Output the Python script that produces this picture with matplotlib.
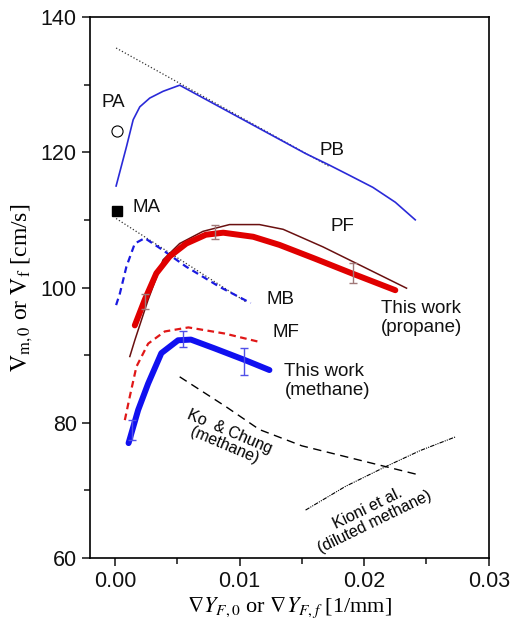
import matplotlib
matplotlib.use("Agg")
import matplotlib.pyplot as plt
from matplotlib.ticker import MultipleLocator

plt.rcParams['font.family'] = ['Liberation Sans', 'DejaVu Sans']
plt.rcParams['mathtext.fontset'] = 'stix'

# PA / MA single points
pa_x, pa_y = [0.0002], [123.1]
ma_x, ma_y = [0.0002], [111.3]

# PB (propane, blue thin) and its tangent line
pb_x = [0.0001, 0.00093, 0.00147, 0.002, 0.0028, 0.00387, 0.0052, 0.0076, 0.0108,
        0.0153, 0.0172, 0.0188, 0.0207, 0.0225, 0.0241]
pb_y = [115.0, 120.8, 124.8, 126.7, 128.0, 129.0, 129.9, 127.5, 124.3,
        119.8, 118.1, 116.6, 114.8, 112.6, 110.0]
pa_line_x = [0.0001, 0.0172]
pa_line_y = [135.4, 117.9]

# MB (methane, blue dashed) and its tangent line
mb_x = [0.0001, 0.0004, 0.00093, 0.0016, 0.0024, 0.00387, 0.0057, 0.0084, 0.0109]
mb_y = [97.4, 99.1, 103.1, 106.5, 107.3, 105.5, 103.1, 100.1, 97.7]
ma_line_x = [0.0001, 0.0105]
ma_line_y = [110.2, 97.9]

# PF (propane, dark red thin)
pf_x = [0.0012, 0.0016, 0.00267, 0.00387, 0.0052, 0.00707, 0.0092, 0.0116, 0.0135,
        0.0167, 0.02, 0.0234]
pf_y = [89.8, 92.2, 98.2, 104.1, 106.5, 108.3, 109.3, 109.3, 108.6,
        106.0, 103.0, 99.9]

# this work, propane
prop_x = [0.0016, 0.0024, 0.00333, 0.0044, 0.00573, 0.0073, 0.0087, 0.0111, 0.0132,
          0.016, 0.019, 0.0225]
prop_y = [94.4, 98.2, 102.1, 104.6, 106.5, 107.8, 108.1, 107.5, 106.3,
          104.3, 102.1, 99.6]
prop_err_x = [0.0024, 0.008, 0.0191]
prop_err_y = [97.95, 108.15, 102.1]
prop_err = [1.15, 1.05, 1.5]

# MF (methane, red dashed)
mf_x = [0.0008, 0.0012, 0.00173, 0.00267, 0.004, 0.0059, 0.0088, 0.0115]
mf_y = [80.4, 83.9, 88.3, 91.7, 93.5, 94.1, 93.2, 92.0]

# this work, methane
meth_x = [0.0011, 0.00187, 0.00267, 0.00373, 0.00507, 0.0061, 0.008, 0.0104, 0.0124]
meth_y = [77.0, 81.9, 85.8, 90.3, 92.2, 92.3, 91.0, 89.3, 87.8]
meth_err_x = [0.0014, 0.00547, 0.01035]
meth_err_y = [78.9, 92.4, 89.05]
meth_err = [1.5, 1.2, 1.95]

# Ko & Chung, Kioni et al.
ko_x = [0.0052, 0.0089, 0.0116, 0.015, 0.0185, 0.0244]
ko_y = [86.8, 82.4, 79.0, 76.6, 75.0, 72.3]
kioni_x = [0.0153, 0.0185, 0.0217, 0.0245, 0.0273]
kioni_y = [67.1, 70.6, 73.5, 75.9, 77.9]

fig = plt.figure(figsize=(5.29, 6.25), dpi=100)
ax = fig.add_axes([0.170, 0.107, 0.754, 0.866])

ax.plot(pa_line_x, pa_line_y, color='#333333', linestyle=':', linewidth=0.9)
ax.plot(ma_line_x, ma_line_y, color='#333333', linestyle=':', linewidth=0.9)
ax.plot(pb_x, pb_y, color='#2a2ad8', linewidth=1.2)
ax.plot(mb_x, mb_y, color='#1a1ae0', linestyle=(0, (3, 2)), linewidth=1.6)
ax.plot(pf_x, pf_y, color='#6a1010', linewidth=1.1)
ax.plot(prop_x, prop_y, color='#e00000', linewidth=4.3, solid_capstyle='round',
        solid_joinstyle='round')
ax.errorbar(prop_err_x, prop_err_y, yerr=prop_err, fmt='none', ecolor='#a07878',
            elinewidth=1.0, capsize=3)
ax.plot(mf_x, mf_y, color='#e01818', linestyle=(0, (3, 2)), linewidth=1.6)
ax.plot(meth_x, meth_y, color='#1010f0', linewidth=4.3, solid_capstyle='round',
        solid_joinstyle='round')
ax.errorbar(meth_err_x, meth_err_y, yerr=meth_err, fmt='none', ecolor='#5050e8',
            elinewidth=1.0, capsize=3)
ax.plot(ko_x, ko_y, color='black', linestyle=(0, (6, 4)), linewidth=1.0)
ax.plot(kioni_x, kioni_y, color='black', linestyle=(0, (4, 1, 1, 1, 1, 1)), linewidth=0.8)

ax.plot(pa_x, pa_y, marker='o', markersize=8, markerfacecolor='white',
        markeredgecolor='black', markeredgewidth=0.8, linestyle='none')
ax.plot(ma_x, ma_y, marker='s', markersize=7, color='black', linestyle='none')

lbl = dict(fontsize=13.5, color='#111111')
ax.text(-0.00016, 127.3, 'PA', ha='center', va='center', **lbl)
ax.text(0.00144, 111.8, 'MA', ha='left', va='center', **lbl)
ax.text(0.01744, 120.3, 'PB', ha='center', va='center', **lbl)
ax.text(0.01824, 109.0, 'PF', ha='center', va='center', **lbl)
ax.text(0.0133, 98.2, 'MB', ha='center', va='center', **lbl)
ax.text(0.0137, 93.3, 'MF', ha='center', va='center', **lbl)
ax.text(0.02134, 95.5, 'This work\n(propane)', ha='left', va='center',
        linespacing=1.1, **lbl)
ax.text(0.0136, 86.2, 'This work\n(methane)', ha='left', va='center',
        linespacing=1.1, **lbl)
ax.text(0.0090, 77.7, 'Ko  & Chung\n(methane)', ha='center', va='center',
        rotation=-23, rotation_mode='anchor', fontsize=11.5, linespacing=1.0)
ax.text(0.02056, 66.4, 'Kioni et al.\n(diluted methane)', ha='center', va='center',
        rotation=26, rotation_mode='anchor', fontsize=11.5, linespacing=1.0)

ax.set_xlim(-0.002, 0.03)
ax.set_ylim(60, 140)
ax.set_xticks([0.0, 0.01, 0.02, 0.03])
ax.set_xticklabels(['0.00', '0.01', '0.02', '0.03'])
ax.set_yticks([60, 80, 100, 120, 140])
ax.xaxis.set_minor_locator(MultipleLocator(0.005))
ax.yaxis.set_minor_locator(MultipleLocator(10))
ax.tick_params(which='both', direction='out', top=False, right=False,
               width=1.1, labelsize=15.5, colors='#111111')
ax.tick_params(which='major', length=6)
ax.tick_params(which='minor', length=4)
for s in ax.spines.values():
    s.set_linewidth(1.2)

ax.set_xlabel(r'$\nabla Y_{F,0}$ or $\nabla Y_{F,f}$ [1/mm]', fontsize=16,
              family='Liberation Serif', labelpad=2)
ax.set_ylabel(r'$\mathrm{V_{m,0}}$ or $\mathrm{V_f}$ [cm/s]', fontsize=17,
              family='Liberation Serif', labelpad=4)

fig.savefig('out.png', dpi=100, facecolor='white')
